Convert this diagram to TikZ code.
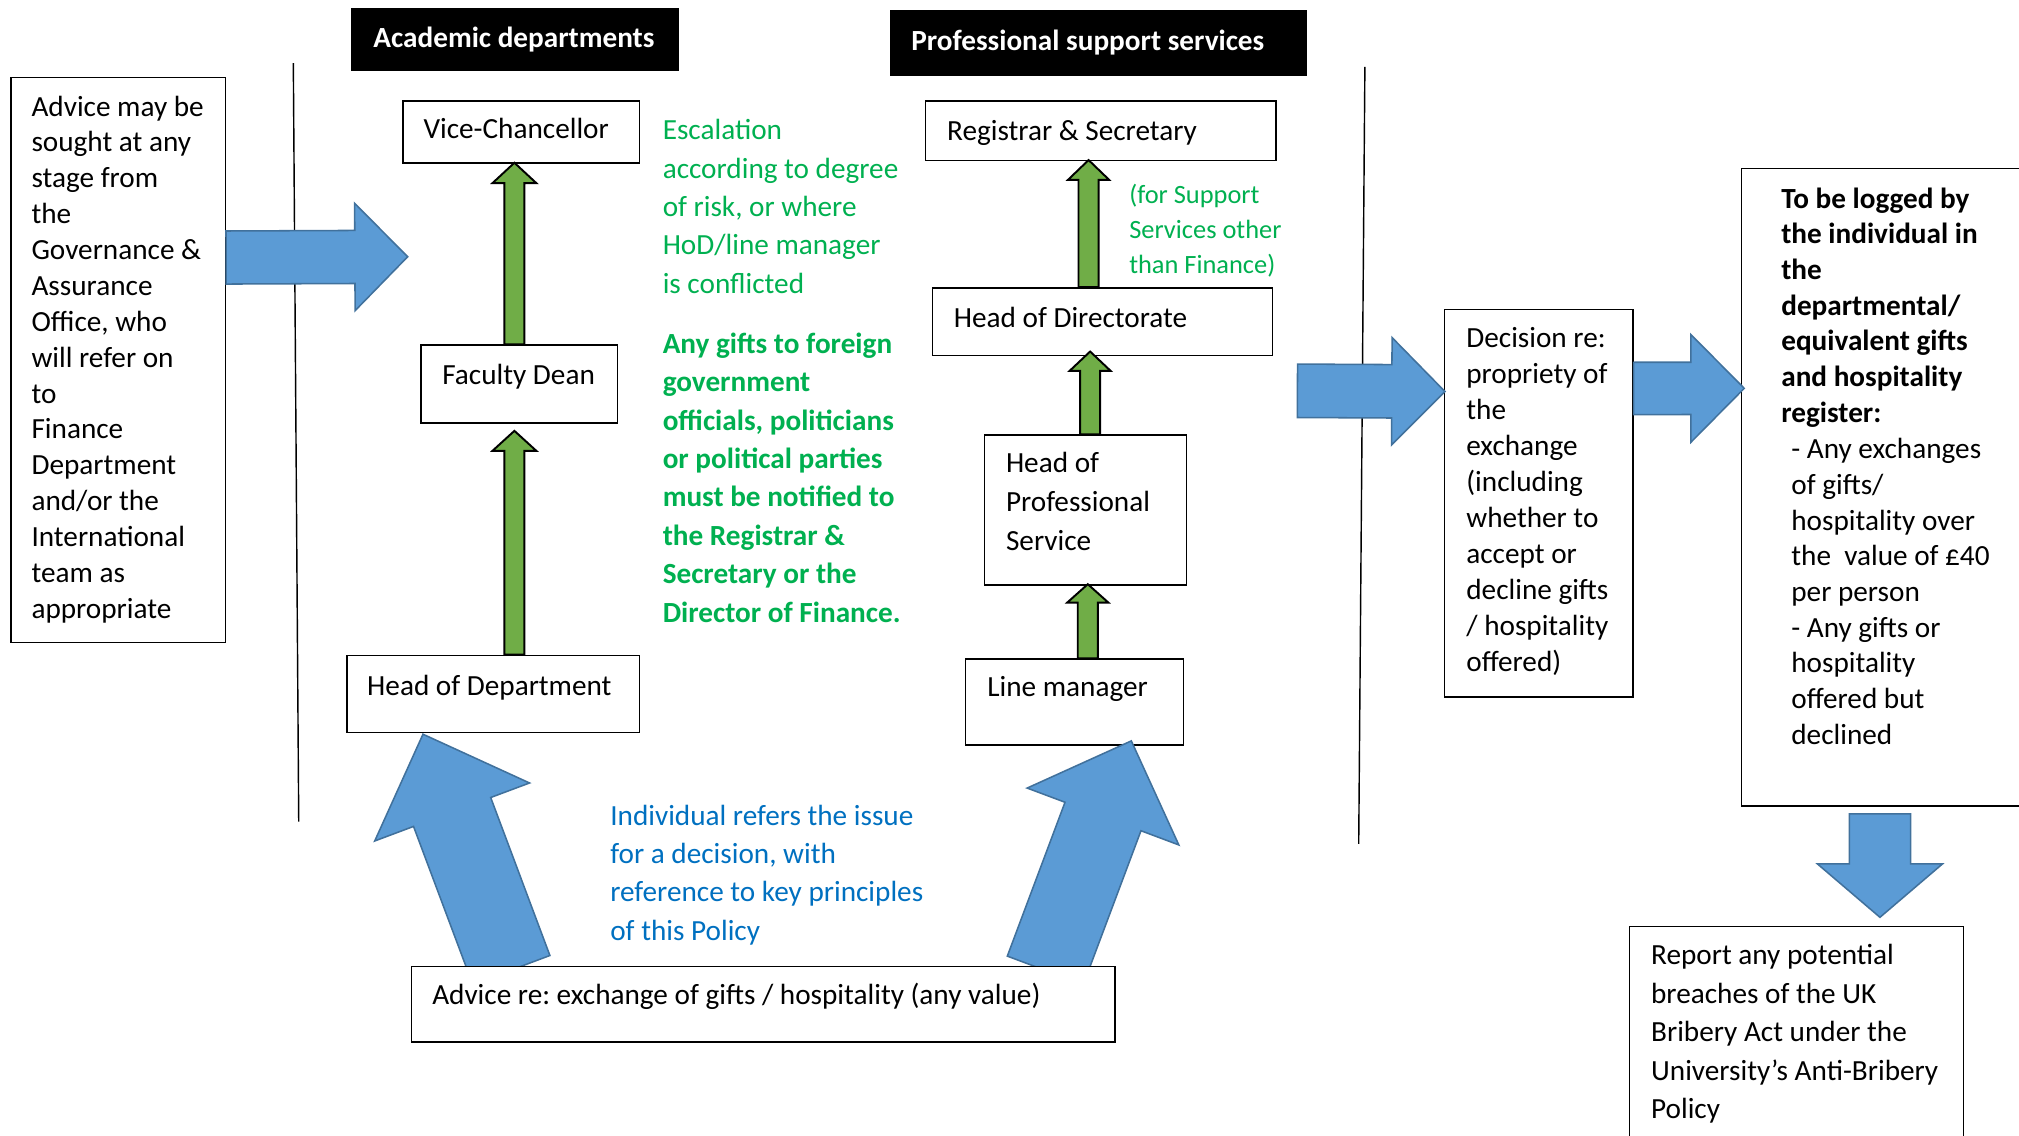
\documentclass[tikz,border=0pt]{standalone}
\usepackage{fontspec}
\setmainfont{Carlito}
\usetikzlibrary{calc}
\pgfdeclarelayer{fg}
\pgfsetlayers{main,fg}
\definecolor{bfill}{HTML}{5B9BD5}
\definecolor{bline}{HTML}{41719C}
\definecolor{gfill}{HTML}{70AD47}
\definecolor{gtext}{HTML}{00B050}
\definecolor{btext}{HTML}{0070C0}
\newcommand\fs{\rule{0pt}{19pt}}
\newcommand\fsn{\rule{0pt}{17pt}}
\frenchspacing
% #1 style, #2 base coordinate, #3 tip coordinate, #4 shaft half width, #5 head half width, #6 head length
\newcommand\blockarrow[6]{%
  \coordinate (baH) at ($(#3)!#6pt!(#2)$);
  \draw[#1] (#3) -- ($(baH)!#5pt!90:(#3)$) -- ($(baH)!#4pt!90:(#3)$)
    -- ($(#2)!#4pt!90:(#3)$) -- ($(#2)!#4pt!-90:(#3)$)
    -- ($(baH)!#4pt!-90:(#3)$) -- ($(baH)!#5pt!-90:(#3)$) -- cycle;
}
\tikzset{
  box/.style={draw=black, line width=1.2pt, fill=white, inner sep=0pt, anchor=north west},
  hdr/.style={fill=black, inner sep=0pt, anchor=north west},
  lbl/.style={inner sep=0pt, anchor=base west, font=\fontsize{22.7}{27.8}\selectfont},
  ml/.style={inner sep=0pt, anchor=north west, align=left},
  bluearrow/.style={fill=bfill, draw=bline, line width=1.2pt},
  greenarrow/.style={fill=gfill, draw=black, line width=1.5pt},
  sep/.style={draw=black, line width=1.1pt},
}
\begin{document}
\begin{tikzpicture}[x=1pt,y=-1pt]
\useasboundingbox (0,0) rectangle (1568,882);
% separator lines
\coordinate (s1a) at (227.8,49);
\coordinate (s1b) at (232,638);
\coordinate (s2a) at (1060,52);
\coordinate (s2b) at (1055.2,655.3);
\draw[sep] (s1a) -- (s1b);
\draw[sep] (s2a) -- (s2b);
% headers
\node[hdr, minimum width=254.5pt, minimum height=49pt] (acad) at (272.5,5.9) {};
\node[lbl, text=white, font=\fontsize{22.7}{27.8}\selectfont\bfseries] (acadt) at (289.8,36.6) {Academic departments};
\node[hdr, minimum width=324pt, minimum height=51.5pt] (prof) at (691,7.5) {};
\node[lbl, text=white, font=\fontsize{22.7}{27.8}\selectfont\bfseries] (proft) at (707.5,39.5) {Professional support services};
% left box
\node[box, minimum width=166.4pt, minimum height=439pt] (lb) at (8,59.5) {};
\node[ml, font=\fontsize{22.7}{27.86}\selectfont] (lbt) at (24.3,70.9) {\fs Advice may be\\sought at any\\stage from\\the\\Governance \&\\Assurance\\Office, who\\will refer on\\to\\Finance\\Department\\and/or the\\International\\team as\\appropriate};
% academic column
\node[box, minimum width=183.7pt, minimum height=48pt] (vc) at (312.4,77.8) {};
\node[lbl] (vct) at (328.7,107.9) {Vice-Chancellor};
\node[box, minimum width=152.6pt, minimum height=60.4pt] (fd) at (326.2,267.4) {};
\node[lbl] (fdt) at (343.3,298.4) {Faculty Dean};
\node[box, minimum width=227.3pt, minimum height=60pt] (hod) at (268.7,508.3) {};
\node[lbl] (hodt) at (285,540) {Head of Department};
% green notes
\node[ml, text=gtext, font=\fontsize{22.7}{29.8}\selectfont] (esc) at (514.5,89.4) {\fs Escalation\\according to degree\\of risk, or where\\HoD/line manager\\is conflicted};
\node[ml, text=gtext, font=\fontsize{22.7}{29.84}\selectfont\bfseries] (gifts) at (514.5,255.1) {\fs Any gifts to foreign\\government\\officials, politicians\\or political parties\\must be notified to\\the Registrar \&\\Secretary or the\\Director of Finance.};
% professional column
\node[box, minimum width=272.1pt, minimum height=46.3pt] (rs) at (718.1,77.9) {};
\node[lbl] (rst) at (735.4,109.2) {Registrar \& Secretary};
\node[box, minimum width=264.2pt, minimum height=52.7pt] (hdir) at (723.6,222.9) {};
\node[lbl] (hdirt) at (740.6,254.1) {Head of Directorate};
\node[box, minimum width=157.1pt, minimum height=116.3pt] (hps) at (763.8,337.3) {};
\node[ml, font=\fontsize{22.7}{30.2}\selectfont] (hpst) at (781.1,348) {\fs Head of\\Professional\\Service};
\node[box, minimum width=169.2pt, minimum height=66.7pt] (lm) at (749.3,511.2) {};
\node[lbl] (lmt) at (766.6,541.3) {Line manager};
\node[ml, text=gtext, font=\fontsize{20.5}{27}\selectfont] (note) at (876.8,141.1) {\fsn(for Support\\Services other\\than Finance)};
% decision & register
\node[box, minimum width=146.4pt, minimum height=300.9pt] (dec) at (1121.1,239.6) {};
\node[ml, font=\fontsize{22.7}{27.96}\selectfont] (dect) at (1138.6,250.4) {\fs Decision re:\\propriety of\\the\\exchange\\(including\\whether to\\accept or\\decline gifts\\/ hospitality\\offered)};
\node[box, minimum width=230pt, minimum height=495.2pt] (reg) at (1351.7,130.2) {};
\node[ml, font=\fontsize{22.7}{27.7}\selectfont\bfseries] (regt) at (1383.2,142.4) {\fs To be logged by\\the individual in\\the\\departmental/\\equivalent gifts\\and hospitality\\register:};
\node[ml, font=\fontsize{22.7}{27.76}\selectfont] (regl) at (1391,336.9) {\fs - Any exchanges\\of gifts/\\hospitality over\\the\ \ value of £40\\per person\\- Any gifts or\\hospitality\\offered but\\declined};
\node[box, minimum width=259.2pt, minimum height=180pt] (rep) at (1264.9,718.8) {};
\node[ml, font=\fontsize{22.7}{29.95}\selectfont] (rept) at (1282.1,730) {\fs Report any potential\\breaches of the UK\\Bribery Act under the\\University’s Anti-Bribery\\Policy};
% blue note
\node[ml, text=btext, font=\fontsize{22.7}{29.8}\selectfont] (indiv) at (473.8,621.7) {\fs Individual refers the issue\\for a decision, with\\reference to key principles\\of this Policy};
% advice box (front layer)
\begin{pgfonlayer}{fg}
\node[box, minimum width=546.2pt, minimum height=58.5pt] (adv) at (319,750) {};
\node[lbl] (advt) at (335.5,779.8) {Advice re: exchange of gifts / hospitality (any value)};
\end{pgfonlayer}
% green escalation arrows
\coordinate (g1b) at ($(fd.north)+(-3.6,0)$);
\coordinate (g1t) at ($(vc.south)+(-5.35,-0.6)$);
\blockarrow{greenarrow}{g1b}{g1t}{7.8}{17}{15.8}
\coordinate (g2b) at ($(hod.north)+(16.55,0)$);
\coordinate (g2t) at ($(fd.south)+(-3.6,5.6)$);
\blockarrow{greenarrow}{g2b}{g2t}{7.8}{17}{15.5}
\coordinate (g3b) at ($(hdir.north)+(-10.9,0)$);
\coordinate (g3t) at ($(rs.south)+(-9.35,-1.1)$);
\blockarrow{greenarrow}{g3b}{g3t}{7.8}{16}{15.4}
\coordinate (g4b) at ($(hps.north)+(3.65,0)$);
\coordinate (g4t) at ($(hdir.south)+(-9.7,-3.8)$);
\blockarrow{greenarrow}{g4b}{g4t}{7.8}{16}{15.1}
\coordinate (g5b) at ($(lm.north)+(10.3,0)$);
\coordinate (g5t) at ($(hps.south)+(1.85,-1.1)$);
\blockarrow{greenarrow}{g5b}{g5t}{7.8}{16}{14.3}
% blue flow arrows
\coordinate (a1b) at ($(lb.east)+(0,-79.6)$);
\coordinate (a1t) at (316.6,199.4);
\blockarrow{bluearrow}{a1b}{a1t}{20.6}{41.7}{41}
\coordinate (a2b) at (1007.6,303.5);
\coordinate (a2t) at ($(dec.west)+(1.1,-86.55)$);
\blockarrow{bluearrow}{a2b}{a2t}{20.75}{41.7}{41.3}
\coordinate (a3b) at ($(dec.east)+(0,-89)$);
\coordinate (a3t) at ($(reg.west)+(2.9,-76.8)$);
\blockarrow{bluearrow}{a3b}{a3t}{20.3}{41.8}{41.4}
\coordinate (a4b) at ($(reg.south west)+(108.3,5.4)$);
\coordinate (a4t) at ($(rep.north west)+(195.1,-6.4)$);
\blockarrow{bluearrow}{a4b}{a4t}{23.8}{48.6}{41.5}
% big referral arrows
\coordinate (a5b) at ($(adv.north west)+(78.1,3.3)$);
\coordinate (a5t) at ($(hod.south west)+(59.8,0.7)$);
\blockarrow{bluearrow}{a5b}{a5t}{32}{64.2}{64.5}
\coordinate (a6b) at ($(adv.north west)+(492.8,3.6)$);
\coordinate (a6t) at ($(lm.south west)+(129.3,-3.7)$);
\blockarrow{bluearrow}{a6b}{a6t}{31.5}{62.9}{62.7}
\end{tikzpicture}
\end{document}
